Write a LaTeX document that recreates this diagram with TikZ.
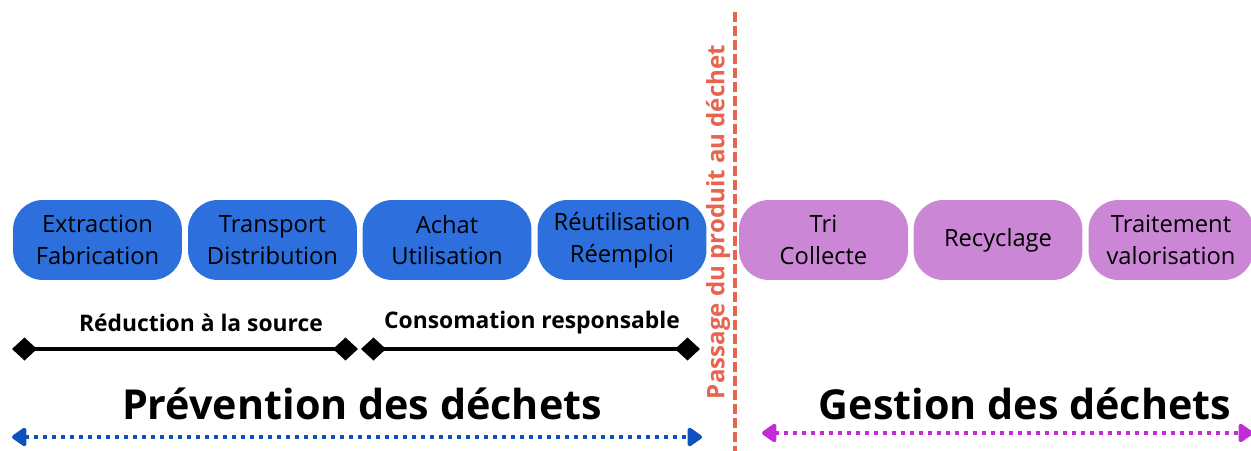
\documentclass[tikz,border=0pt]{standalone}
\usepackage{fontspec}
\setmainfont{Open Sans}
\usetikzlibrary{arrows.meta}
\definecolor{prevblue}{HTML}{2C6FDD}
\definecolor{gestpurple}{HTML}{CB86D5}
\definecolor{passred}{HTML}{E8644E}
\definecolor{arrblue}{HTML}{0D50BE}
\definecolor{arrpurple}{HTML}{C42BD8}

\begin{document}
\begin{tikzpicture}
	[x=0.02cm, y=-0.02cm, block/.style ={rectangle, fill=prevblue, text width=3.3cm, align=center, rounded corners=0.6cm, minimum width=3.38cm, minimum height=1.6cm, inner sep=0pt, font=\fontsize{13.5}{18}\selectfont},
	gblock/.style ={block, fill=gestpurple},
	phase/.style ={line width=2.6pt, {Diamond[length=0.5cm, width=0.46cm]}-{Diamond[length=0.5cm, width=0.46cm]}},
	span/.style ={line width=2.8pt, dash pattern=on 0.08cm off 0.1cm, {Triangle[length=0.32cm, width=0.42cm, round]}-{Triangle[length=0.32cm, width=0.42cm, round]}},
	label/.style ={font=\bfseries\fontsize{13}{15}\selectfont},
	title/.style ={font=\bfseries\fontsize{23.5}{27}\selectfont}];
	\useasboundingbox (0,0) rectangle (1251,450);
	% prevention
	\node [block] (extraction) at (97.5,240) {Extraction\\Fabrication};
	\node [block] (transport) at (272.5,240) {Transport\\Distribution};
	\node [block] (achat) at (447,240) {Achat\\Utilisation};
	\node [block] (reemploi) at (622,240) {Réutilisation\\Réemploi};
	% gestion
	\node [gblock] (tri) at (823.5,240) {Tri\\Collecte};
	\node [gblock] (recyclage) at (998,240) {Recyclage};
	\node [gblock, minimum width=3.28cm] (traitement) at (1171,240) {Traitement\\valorisation};
	% phases
	\coordinate (reduc-a) at (12,349);
	\coordinate (reduc-b) at (358,349);
	\coordinate (conso-a) at (361,349);
	\coordinate (conso-b) at (700,349);
	\draw [phase] (reduc-a) -- (reduc-b);
	\draw [phase] (conso-a) -- (conso-b);
	\node [label] (reduction) at (201,323) {Réduction à la source};
	\node [label] (consomation) at (532,323) {Consomation responsable};
	% titres
	\node [title] (prevention) at (362,404) {Prévention des déchets};
	\node [title] (gestion) at (1025,404) {Gestion des déchets};
	\coordinate (prev-a) at (12,437);
	\coordinate (prev-b) at (702,437);
	\coordinate (gest-a) at (762,433);
	\coordinate (gest-b) at (1253,433);
	\draw [span, arrblue] (prev-a) -- (prev-b);
	\draw [span, arrpurple] (gest-a) -- (gest-b);
	% passage
	\coordinate (pass-top) at (735,12);
	\coordinate (pass-bot) at (735,452);
	\draw [passred, line width=2pt, dash pattern=on 0.2cm off 0.08cm] (pass-top) -- (pass-bot);
	\node [rotate=90, text=passred, font=\bfseries\fontsize{13.7}{16}\selectfont] (passage) at (718,222) {Passage du produit au déchet};
\end{tikzpicture}
\end{document}
